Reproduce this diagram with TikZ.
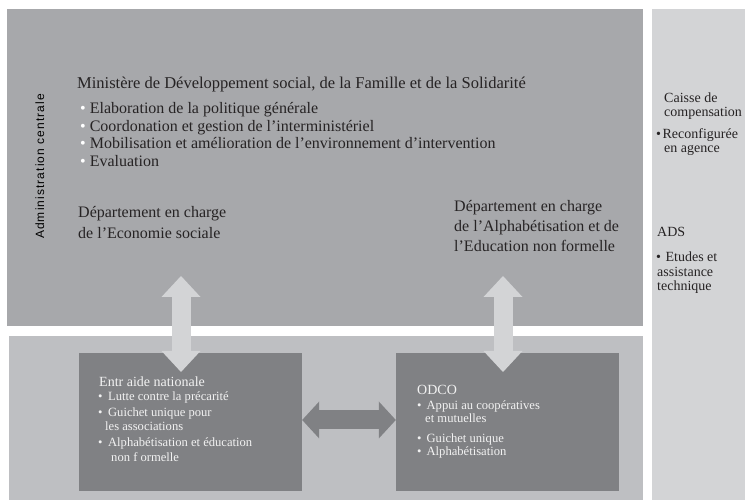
\documentclass[tikz,border=0pt]{standalone}
\usepackage{fontspec}
\setmainfont{Liberation Serif}
\newfontfamily\adminfont[LetterSpace=9]{Liberation Sans}
\usetikzlibrary{arrows.meta,calc}
\definecolor{topgray}{HTML}{A7A8AB}
\definecolor{botgray}{HTML}{BEBFC2}
\definecolor{sidegray}{HTML}{D3D4D6}
\definecolor{darkbox}{HTML}{808184}
\definecolor{textdark}{HTML}{262324}
\definecolor{textlight}{HTML}{F2F2F2}
\begin{document}
\begin{tikzpicture}[x=1pt,y=-1pt,
  panel/.style={rectangle, draw=none, inner sep=0pt},
  txt/.style={anchor=base west, inner sep=0pt, text=textdark, font=\fontsize{16}{18}\selectfont},
  sidetxt/.style={anchor=base west, inner sep=0pt, text=textdark, font=\fontsize{14}{16}\selectfont},
  boxhead/.style={anchor=base west, inner sep=0pt, text=textlight, font=\fontsize{14}{16}\selectfont},
  boxtxt/.style={anchor=base west, inner sep=0pt, text=textlight, font=\fontsize{12.6}{14}\selectfont},
  vblock/.style={draw=sidegray, line width=19pt,
    {Triangle[length=21pt,width=39pt,line width=0pt]}-{Triangle[length=21pt,width=39pt,line width=0pt]}},
  hblock/.style={draw=darkbox, line width=19pt,
    {Triangle[length=17pt,width=37pt,line width=0pt]}-{Triangle[length=17pt,width=37pt,line width=0pt]}}
]
\useasboundingbox (0,0) rectangle (745,502);
\fill[white] (0,0) rectangle (745,502);

% panels
\node[panel, fill=topgray, minimum width=636pt, minimum height=317pt] (topbox) at (325,167.5) {};
\node[panel, fill=botgray, minimum width=634pt, minimum height=164pt] (botbox) at (326,418) {};
\node[panel, fill=sidegray, minimum width=93pt, minimum height=491pt] (side) at (698.5,254.5) {};
\node[panel, fill=darkbox, minimum width=223pt, minimum height=138pt] (ent) at (190.5,422) {};
\node[panel, fill=darkbox, minimum width=223pt, minimum height=138pt] (odco) at (507.5,422) {};

% connectors
\coordinate (a1top) at (181,276);
\coordinate (a1bot) at (181,372);
\coordinate (a2top) at (503,276);
\coordinate (a2bot) at (503,372);
\draw[vblock] (a1top) -- (a1bot);
\draw[vblock] (a2top) -- (a2bot);
\draw[hblock] ([yshift=2pt]ent.east) -- ([yshift=2pt]odco.west);

% vertical label
\node[rotate=90, anchor=base, inner sep=0pt, text=black, font=\adminfont\fontsize{12}{14}\selectfont] (admin) at (44,166.5) {Administration centrale};

% ministry
\node[txt, font=\fontsize{16.5}{18}\selectfont] (min) at (77,89) {Ministère de Développement social, de la Famille et de la Solidarité};
\node[txt] (m1) at (80,114) {\textcolor{white}{•} Elaboration de la politique générale};
\node[txt] (m2) at (80,132) {\textcolor{white}{•} Coordonation et gestion de l’interministériel};
\node[txt] (m3) at (80,149) {\textcolor{white}{•} Mobilisation et amélioration de l’environnement d’intervention};
\node[txt] (m4) at (80,167) {\textcolor{white}{•} Evaluation};

\node[txt] (d1a) at (78,218) {Département en charge};
\node[txt] (d1b) at (78,239) {de l’Economie sociale};
\node[txt] (d2a) at (454,212) {Département en charge};
\node[txt] (d2b) at (454,232) {de l’Alphabétisation et de};
\node[txt] (d2c) at (454,252) {l’Education non formelle};

% side panel
\node[sidetxt] (s1) at (664,103) {Caisse de};
\node[sidetxt] (s2) at (664,117) {compensation};
\node[sidetxt] (s3) at (656,139) {•\hspace{1.5pt}Reconfigurée};
\node[sidetxt] (s4) at (664,153) {en agence};
\node[sidetxt] (s5) at (657,237) {ADS};
\node[sidetxt] (s6) at (656,262) {•\hspace{4.5pt}Etudes et};
\node[sidetxt] (s7) at (657,277) {assistance};
\node[sidetxt] (s8) at (657,291) {technique};

% Entraide box
\node[boxhead] (e0) at (99,387) {Entr aide nationale};
\node[boxtxt] (e1) at (98,401) {•\hspace{5.5pt}Lutte contre la précarité};
\node[boxtxt] (e2) at (98,417) {•\hspace{5.5pt}Guichet unique pour};
\node[boxtxt] (e3) at (105,431) {les associations};
\node[boxtxt] (e4) at (98,447) {•\hspace{5.5pt}Alphabétisation et éducation};
\node[boxtxt] (e5) at (111,462) {non f ormelle};

% ODCO box
\node[boxhead] (o0) at (417,395) {ODCO};
\node[boxtxt] (o1) at (417,410) {•\hspace{5pt}Appui au coopératives};
\node[boxtxt] (o2) at (425,423) {et mutuelles};
\node[boxtxt] (o3) at (417,443) {•\hspace{5pt}Guichet unique};
\node[boxtxt] (o4) at (417,456) {•\hspace{5pt}Alphabétisation};
\end{tikzpicture}
\end{document}
